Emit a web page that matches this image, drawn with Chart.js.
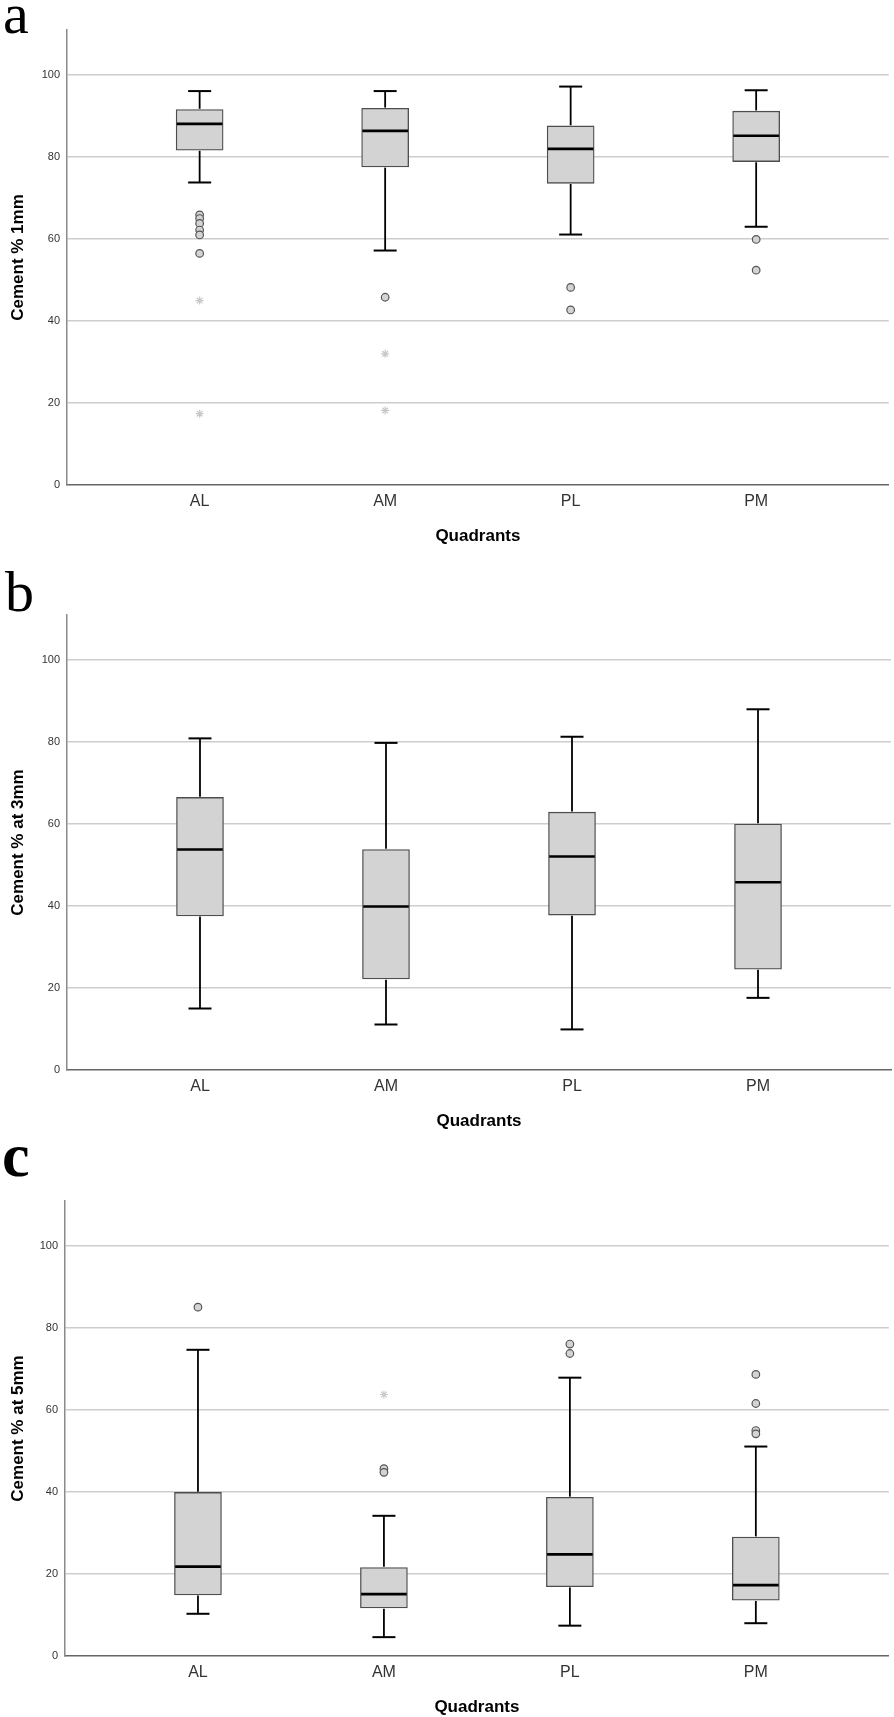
<!DOCTYPE html>
<html>
<head>
<meta charset="utf-8">
<script src="https://cdn.jsdelivr.net/npm/chart.js@4.4.1/dist/chart.umd.min.js"></script>
<style>
  html, body { margin: 0; padding: 0; background: #fff; }
  body { width: 894px; height: 1717px; overflow: hidden; position: relative; }
  .panel { position: absolute; left: 0; width: 894px; }
  .letter { position: absolute; font-family: 'Liberation Serif', 'DejaVu Serif', serif; line-height: 1; color: #000; }
</style>
</head>
<body>
<div class="panel" style="top:0px;height:586px"><canvas id="cA" width="894" height="586"></canvas></div>
<div class="panel" style="top:586px;height:586px"><canvas id="cB" width="894" height="586"></canvas></div>
<div class="panel" style="top:1172px;height:546px"><canvas id="cC" width="894" height="546"></canvas></div>
<div class="letter" style="left:3px;top:-15px;font-size:58px">a</div>
<div class="letter" style="left:5px;top:563px;font-size:58px">b</div>
<div class="letter" style="left:2px;top:1124px;font-size:62px;font-weight:bold">c</div>
<script>
// ---------- data ----------
const quadrants = ['AL', 'AM', 'PL', 'PM'];
const xTicks = [0, 1, 2, 3];
const yTicks = [0, 20, 40, 60, 80, 100];

// Panel a: Cement % 1mm
const lowA  = [73.8, 57.2, 61.1, 63.0];
const q1A   = [81.7, 77.6, 73.6, 78.9];
const medA  = [88.1, 86.4, 82.0, 85.2];
const q3A   = [91.6, 91.9, 87.6, 91.2];
const highA = [96.1, 96.1, 97.2, 96.3];
const outA  = [[65.9, 65.0, 63.8, 62.2, 61.0, 56.5], [45.8], [48.2, 42.7], [59.9, 52.4]];
const extA  = [[45.0, 17.4], [32.0, 18.2], [], []];

// Panel b: Cement % at 3mm
const lowB  = [15.0, 11.1, 9.9, 17.6];
const q1B   = [37.6, 22.2, 37.8, 24.6];
const medB  = [53.8, 39.9, 52.1, 45.8];
const q3B   = [66.5, 53.8, 62.9, 60.0];
const highB = [80.9, 79.8, 81.3, 88.0];
const outB  = [[], [], [], []];
const extB  = [[], [], [], []];

// Panel c: Cement % at 5mm
const lowC  = [10.3, 4.6, 7.4, 8.0];
const q1C   = [14.9, 11.7, 16.9, 13.6];
const medC  = [21.8, 15.1, 24.8, 17.3];
const q3C   = [39.9, 21.6, 38.7, 29.0];
const highC = [74.7, 34.2, 67.9, 51.1];
const outC  = [[85.1], [45.7, 44.8], [76.1, 73.8], [68.7, 61.6, 55.0, 54.2]];
const extC  = [[], [63.8], [], []];

// ---------- drawing ----------
const SANS = "'Liberation Sans', Arial, 'DejaVu Sans', sans-serif";
const BOX_W = 47;
const CAP_W = 23;

function whiskerPlugin(low, q1, med, q3, high) {
  return {
    id: 'whiskers',
    afterDatasetsDraw(chart) {
      const { ctx } = chart;
      const xs = chart.scales.x, ys = chart.scales.y;
      const seg = (x1, y1, x2, y2) => { ctx.beginPath(); ctx.moveTo(x1, y1); ctx.lineTo(x2, y2); ctx.stroke(); };
      ctx.save();
      ctx.strokeStyle = '#000';
      low.forEach((lo, i) => {
        const cx = xs.getPixelForValue(xTicks[i]);
        const yLo = ys.getPixelForValue(lo);
        const yQ1 = ys.getPixelForValue(q1[i]);
        const yMed = ys.getPixelForValue(med[i]);
        const yQ3 = ys.getPixelForValue(q3[i]);
        const yHi = ys.getPixelForValue(high[i]);
        ctx.lineWidth = 1.8;
        seg(cx, yQ1 + 0.7, cx, yLo);
        seg(cx, yQ3 - 0.7, cx, yHi);
        ctx.lineWidth = 2;
        seg(cx - CAP_W / 2, yLo, cx + CAP_W / 2, yLo);
        seg(cx - CAP_W / 2, yHi, cx + CAP_W / 2, yHi);
        ctx.lineWidth = 2.6;
        seg(cx - BOX_W / 2 + 0.7, yMed, cx + BOX_W / 2 - 0.7, yMed);
      });
      ctx.restore();
    }
  };
}

function makePanel(id, yTitle, low, q1, med, q3, high, outs, exts, geom) {
  const canvas = document.getElementById(id);
  const H = canvas.height, W = canvas.width;
  const xAxisH = 62;
  const boxes = quadrants.map((q, i) => ({ x: xTicks[i], y: [q1[i], q3[i]] }));
  const outPts = outs.flatMap((arr, i) => arr.map(v => ({ x: xTicks[i], y: v })));
  const extPts = exts.flatMap((arr, i) => arr.map(v => ({ x: xTicks[i], y: v })));
  new Chart(canvas, {
    type: 'bar',
    data: {
      datasets: [
        {
          type: 'bar',
          data: boxes,
          backgroundColor: '#d3d3d3',
          borderColor: '#4d4d4d',
          borderWidth: 1.3,
          borderSkipped: false,
          barThickness: BOX_W,
          order: 2
        },
        {
          type: 'scatter',
          data: outPts,
          pointStyle: 'circle',
          pointRadius: 3.8,
          pointBackgroundColor: '#d3d3d3',
          pointBorderColor: '#555',
          pointBorderWidth: 1.2,
          order: 1
        },
        {
          type: 'scatter',
          data: extPts,
          pointStyle: 'star',
          pointRadius: 4,
          pointBorderColor: '#c8c8c8',
          pointBorderWidth: 1.2,
          order: 1
        }
      ]
    },
    options: {
      responsive: false,
      animation: false,
      events: [],
      layout: {
        padding: { top: geom.top, left: 0, right: W - geom.right, bottom: H - geom.bottom - xAxisH }
      },
      plugins: { legend: { display: false }, tooltip: { enabled: false } },
      scales: {
        x: {
          type: 'linear',
          min: -0.715,
          max: 3.715,
          offset: false,
          afterFit(s) { s.height = xAxisH; },
          afterBuildTicks(s) { s.ticks = xTicks.map(v => ({ value: v })); },
          grid: { display: false, drawTicks: false, offset: false },
          border: { display: true, color: '#666', width: 1.5 },
          ticks: {
            padding: 7,
            autoSkip: false,
            maxRotation: 0,
            color: '#333',
            font: { family: SANS, size: 16 },
            callback: (v) => quadrants[xTicks.indexOf(v)] || ''
          },
          title: {
            display: true,
            text: 'Quadrants',
            color: '#000',
            padding: { top: 0, bottom: 0 },
            font: { family: SANS, size: 17, weight: 'bold' }
          }
        },
        y: {
          min: 0,
          max: 111,
          afterFit(s) { s.width = geom.left; },
          afterBuildTicks(s) { s.ticks = yTicks.map(v => ({ value: v })); },
          grid: {
            drawTicks: false,
            lineWidth: 1.5,
            color: (c) => (c.tick && c.tick.value === 0) ? 'rgba(0,0,0,0)' : '#cdcdcd'
          },
          border: { display: true, color: '#8a8a8a', width: 1.5 },
          ticks: {
            padding: 7,
            color: '#333',
            font: { family: SANS, size: 11 }
          },
          title: {
            display: true,
            text: yTitle,
            color: '#000',
            padding: { top: 7.8, bottom: 0 },
            font: { family: SANS, size: 17, weight: 'bold' }
          }
        }
      }
    },
    plugins: [whiskerPlugin(low, q1, med, q3, high)]
  });
}

makePanel('cA', 'Cement % 1mm', lowA, q1A, medA, q3A, highA, outA, extA,
  { top: 30, bottom: 485, left: 67, right: 891 });
makePanel('cB', 'Cement % at 3mm', lowB, q1B, medB, q3B, highB, outB, extB,
  { top: 29, bottom: 484, left: 67, right: 891 });
makePanel('cC', 'Cement % at 5mm', lowC, q1C, medC, q3C, highC, outC, extC,
  { top: 29, bottom: 484, left: 65, right: 889.5 });
</script>
</body>
</html>
